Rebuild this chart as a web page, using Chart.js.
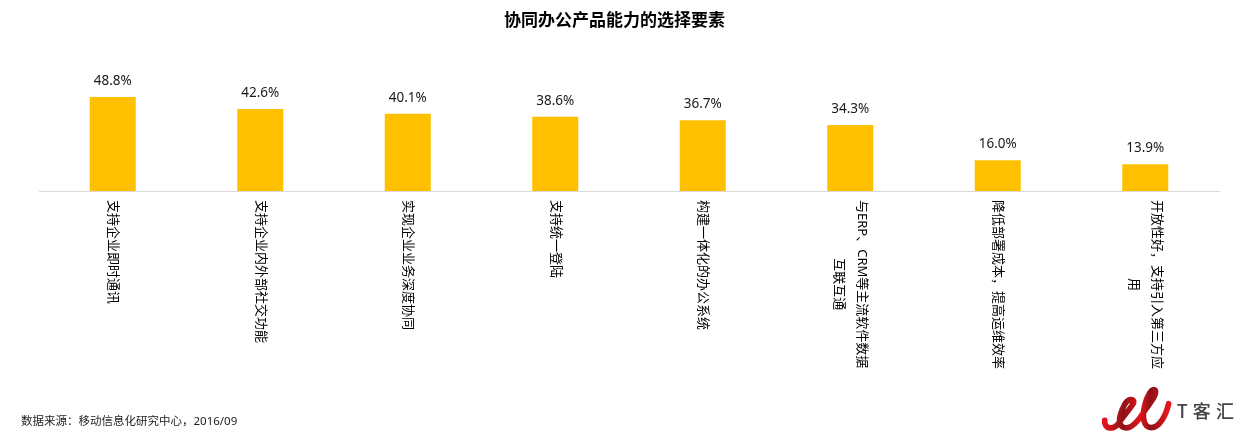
<!DOCTYPE html>
<html>
<head>
<meta charset="utf-8">
<title>协同办公产品能力的选择要素</title>
<script src="https://cdn.jsdelivr.net/npm/chart.js@4/dist/chart.umd.js"></script>
<style>
    html, body { margin: 0; padding: 0; background: #fff; }
    #wrap { position: relative; width: 1244px; height: 442px; overflow: hidden; }
    #logo { position: absolute; left: 1080px; top: 385px; }
</style>
</head>
<body>
<div id="wrap">
    <canvas id="chart" width="1244" height="442"></canvas>
    <!-- Logo in the corner, not part of the data -->
    <svg id="logo" width="164" height="57" viewBox="0 0 492 171">
        <defs>
            <linearGradient id="ribbon" x1="0" y1="0" x2="1" y2="0">
                <stop offset="0" stop-color="#e2141c"/>
                <stop offset="0.3" stop-color="#8e1218"/>
                <stop offset="0.55" stop-color="#e2141c"/>
                <stop offset="0.72" stop-color="#8e1218"/>
                <stop offset="1" stop-color="#e8161e"/>
            </linearGradient>
        </defs>
        <path d="M74 106 C72 132 100 138 118 112 C132 92 150 72 160 55 C166 38 142 40 132 62 C120 86 112 114 128 126 C148 136 172 112 192 80 C208 56 232 30 226 16 C216 6 200 34 194 62 C186 96 190 128 214 128 C238 128 258 92 266 56"
              fill="none" stroke="url(#ribbon)" stroke-width="17" stroke-linecap="round" stroke-linejoin="round"/>
        <text x="290" y="98" font-family="'Noto Sans CJK SC'" font-size="54" font-weight="500" fill="#444" textLength="172" lengthAdjust="spacing">T客汇</text>
    </svg>
</div>
<script>
// Data
const categories = [
    ['支持企业即时通讯'],
    ['支持企业内外部社交功能'],
    ['实现企业业务深度协同'],
    ['支持统一登陆'],
    ['构建一体化的办公系统'],
    ['与ERP、CRM等主流软件数据', '互联互通'],
    ['降低部署成本，提高运维效率'],
    ['开放性好，支持引入第三方应', '用']
];
const shareValues = [48.8, 42.6, 40.1, 38.6, 36.7, 34.3, 16.0, 13.9];
const chartTitle = '协同办公产品能力的选择要素';
const sourceNote = '数据来源：移动信息化研究中心，2016/09';

const FONT = '"Noto Sans", "Noto Sans CJK SC", sans-serif';
const LINE_GAP = 23;

// Value labels, rotated category labels, title and source note
const textPlugin = {
    id: 'textPlugin',
    afterDraw(chart) {
        const ctx = chart.ctx;
        const xScale = chart.scales.x;
        const yScale = chart.scales.y;

        ctx.save();
        ctx.fillStyle = '#000';

        // Title
        ctx.font = 'bold 17px ' + FONT;
        ctx.textAlign = 'center';
        ctx.textBaseline = 'middle';
        ctx.fillText(chartTitle, 614.5, 21);

        // Value above each bar
        ctx.font = '13.5px ' + FONT;
        ctx.fillStyle = '#1a1a1a';
        shareValues.forEach((value, i) => {
            ctx.fillText(value.toFixed(1) + '%', xScale.getPixelForTick(i), yScale.getPixelForValue(value) - 16);
        });

        // Category labels read top to bottom, extra lines centred under the first
        ctx.font = '13px ' + FONT;
        ctx.fillStyle = '#000';
        categories.forEach((lines, i) => {
            const x = xScale.getPixelForTick(i) + (lines.length - 1) / 2 * LINE_GAP;
            const firstWidth = ctx.measureText(lines[0]).width;
            lines.forEach((line, n) => {
                const width = ctx.measureText(line).width;
                ctx.save();
                ctx.translate(x - n * LINE_GAP, 200 + (firstWidth - width) / 2);
                ctx.rotate(Math.PI / 2);
                ctx.textAlign = 'left';
                ctx.textBaseline = 'middle';
                ctx.fillText(line, 0, 0);
                ctx.restore();
            });
        });

        // Source note
        ctx.font = '11.5px ' + FONT;
        ctx.textAlign = 'left';
        ctx.fillStyle = '#222';
        ctx.fillText(sourceNote, 21, 422);
        ctx.restore();
    }
};

new Chart(document.getElementById('chart'), {
    type: 'bar',
    data: {
        labels: categories.map(lines => lines.join('')),
        datasets: [{
            data: shareValues,
            backgroundColor: '#FFC000',
            categoryPercentage: 1,
            barPercentage: 0.312
        }]
    },
    options: {
        responsive: false,
        animation: false,
        layout: { padding: { top: 37, left: 39, right: 25, bottom: 243 } },
        plugins: {
            legend: { display: false },
            title: { display: false },
            tooltip: { enabled: false }
        },
        scales: {
            x: {
                grid: { display: false },
                border: { color: '#d9d9d9', width: 1 },
                ticks: { display: false }
            },
            y: {
                display: false,
                min: 0,
                max: 80
            }
        }
    },
    plugins: [textPlugin]
});
</script>
</body>
</html>
